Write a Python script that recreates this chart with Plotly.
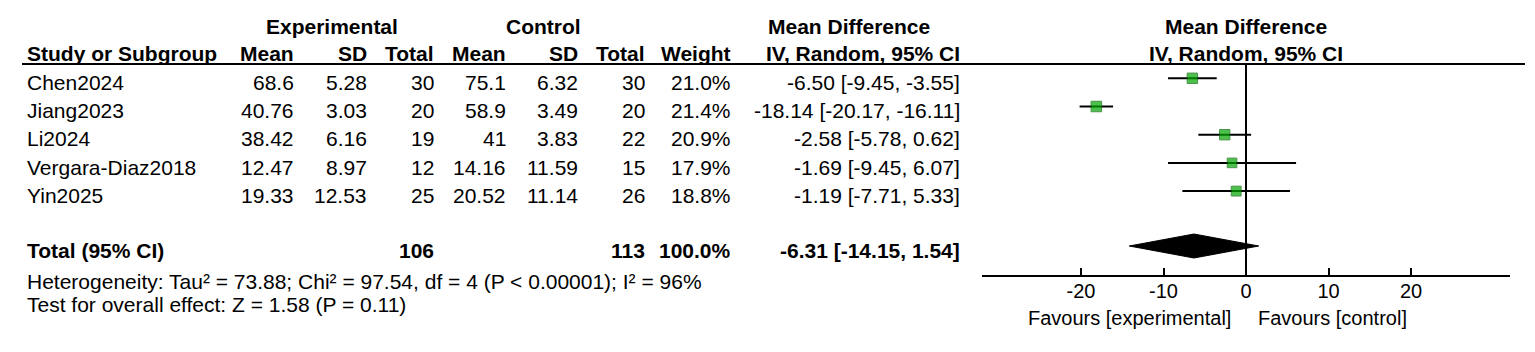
import plotly.graph_objects as go

# ---------------- data ----------------
studies = ["Chen2024", "Jiang2023", "Li2024", "Vergara-Diaz2018", "Yin2025"]
exp_mean = [68.6, 40.76, 38.42, 12.47, 19.33]
exp_sd = [5.28, 3.03, 6.16, 8.97, 12.53]
exp_n = [30, 20, 19, 12, 25]
ctl_mean = [75.1, 58.9, 41, 14.16, 20.52]
ctl_sd = [6.32, 3.49, 3.83, 11.59, 11.14]
ctl_n = [30, 20, 22, 15, 26]
weight = [21.0, 21.4, 20.9, 17.9, 18.8]
md = [-6.50, -18.14, -2.58, -1.69, -1.19]
md_lo = [-9.45, -20.17, -5.78, -9.45, -7.71]
md_hi = [-3.55, -16.11, 0.62, 6.07, 5.33]

total_exp_n = 106
total_ctl_n = 113
total_weight = 100.0
total_md = -6.31
total_lo = -14.15
total_hi = 1.54

heterogeneity = "Heterogeneity: Tau² = 73.88; Chi² = 97.54, df = 4 (P < 0.00001); I² = 96%"
overall = "Test for overall effect: Z = 1.58 (P = 0.11)"
tick_vals = [-20, -10, 0, 10, 20]
tick_text = ["-20", "-10", "0", "10", "20"]
favours_left = "Favours [experimental]"
favours_right = "Favours [control]"

# ---------------- layout constants (pixels) ----------------
W, H = 1535, 352
FONT = "Liberation Sans, Arial, sans-serif"
FS = 21
AXIS_Y = 275
HEAD_LINE_Y = 64
mark_y = [78.3 + 28.2 * i for i in range(len(studies))]
text_y = [82.5 + 28.2 * i for i in range(len(studies))]
TOTAL_MARK_Y = 246
TOTAL_TEXT_Y = 250.5


def px(x):
    return x / W


def py(y):
    return 1 - y / H


annotations = []


def txt(s, x, y, anchor="left", bold=False, size=FS):
    if bold:
        s = "<b>" + s + "</b>"
    annotations.append(dict(
        text=s, x=px(x), y=py(y), xref="paper", yref="paper",
        xanchor=anchor, yanchor="middle", showarrow=False,
        font=dict(family=FONT, size=size, color="#000000"),
    ))


def fmt(v):
    return str(v)


# header rows
txt("Experimental", 332, 26.5, "center", True)
txt("Control", 543, 26.5, "center", True)
txt("Mean Difference", 849, 26.5, "center", True)
txt("Mean Difference", 1246, 26.5, "center", True)

txt("Study or Subgroup", 25, 53.5, "left", True)
txt("Mean", 296, 53.5, "right", True)
txt("SD", 369, 53.5, "right", True)
txt("Total", 436, 53.5, "right", True)
txt("Mean", 508, 53.5, "right", True)
txt("SD", 580, 53.5, "right", True)
txt("Total", 647, 53.5, "right", True)
txt("Weight", 733, 53.5, "right", True)
txt("IV, Random, 95% CI", 962, 53.5, "right", True)
txt("IV, Random, 95% CI", 1246, 53.5, "center", True)

cols_right = [296, 369, 436, 508, 580, 647, 733, 962]
for i, s in enumerate(studies):
    y = text_y[i]
    txt(s, 25, y, "left")
    vals = [fmt(exp_mean[i]), f"{exp_sd[i]:.2f}", fmt(exp_n[i]),
            fmt(ctl_mean[i]), f"{ctl_sd[i]:.2f}", fmt(ctl_n[i]),
            f"{weight[i]:.1f}%",
            f"{md[i]:.2f} [{md_lo[i]:.2f}, {md_hi[i]:.2f}]"]
    for x, v in zip(cols_right, vals):
        txt(v, x, y, "right")

txt("Total (95% CI)", 25, TOTAL_TEXT_Y, "left", True)
txt(str(total_exp_n), 436, TOTAL_TEXT_Y, "right", True)
txt(str(total_ctl_n), 647, TOTAL_TEXT_Y, "right", True)
txt(f"{total_weight:.1f}%", 733, TOTAL_TEXT_Y, "right", True)
txt(f"{total_md:.2f} [{total_lo:.2f}, {total_hi:.2f}]", 962, TOTAL_TEXT_Y, "right", True)

txt(heterogeneity, 25, 281, "left")
txt(overall, 25, 304, "left")

txt(favours_left, 1233, 318, "right", size=20)
txt(favours_right, 1256, 318, "left", size=20)

# ---------------- traces ----------------
fig = go.Figure()

# zero line
fig.add_trace(go.Scatter(x=[0, 0], y=[HEAD_LINE_Y, AXIS_Y], mode="lines",
                         line=dict(color="#000000", width=2), hoverinfo="skip",
                         showlegend=False, cliponaxis=False))

# CI lines
cx, cy = [], []
for lo, hi, y in zip(md_lo, md_hi, mark_y):
    cx += [lo, hi, None]
    cy += [y, y, None]
fig.add_trace(go.Scatter(x=cx, y=cy, mode="lines",
                         line=dict(color="#000000", width=2),
                         showlegend=False, hoverinfo="skip"))

# study squares
sizes = [10.5 * (w / max(weight)) ** 0.5 for w in weight]
fig.add_trace(go.Scatter(x=md, y=mark_y, mode="markers",
                         marker=dict(symbol="square", size=sizes, color="#00a800",
                                     line=dict(color="#006400", width=1)),
                         showlegend=False))

# pooled diamond
dh = 12
fig.add_trace(go.Scatter(
    x=[total_lo, total_md, total_hi, total_md, total_lo],
    y=[TOTAL_MARK_Y, TOTAL_MARK_Y - dh, TOTAL_MARK_Y, TOTAL_MARK_Y + dh, TOTAL_MARK_Y],
    mode="lines", fill="toself", fillcolor="#000000",
    line=dict(color="#000000", width=1), showlegend=False, hoverinfo="skip"))

fig.update_layout(
    width=W, height=H,
    margin=dict(l=0, r=0, t=0, b=0),
    paper_bgcolor="#ffffff", plot_bgcolor="#ffffff",
    showlegend=False,
    annotations=annotations,
    shapes=[dict(type="line", xref="paper", yref="paper",
                 x0=px(22), x1=px(1525), y0=py(HEAD_LINE_Y), y1=py(HEAD_LINE_Y),
                 line=dict(color="#000000", width=2))],
    xaxis=dict(domain=[px(982), px(1510)], range=[-32, 32], fixedrange=True,
               showgrid=False, zeroline=False, showline=True, linecolor="#000000",
               linewidth=2, ticks="inside", ticklen=7, tickwidth=2, tickcolor="#000000",
               tickvals=tick_vals, ticktext=tick_text, ticklabelstandoff=-3,
               tickfont=dict(family=FONT, size=20, color="#000000"),
               anchor="y"),
    yaxis=dict(domain=[1 - AXIS_Y / H, 1], range=[AXIS_Y, 0], fixedrange=True,
               visible=False, showgrid=False, zeroline=False),
)

fig.write_html("out.html", config={"displayModeBar": False},
               post_script="document.body.style.margin='0';document.body.style.overflow='hidden';")
